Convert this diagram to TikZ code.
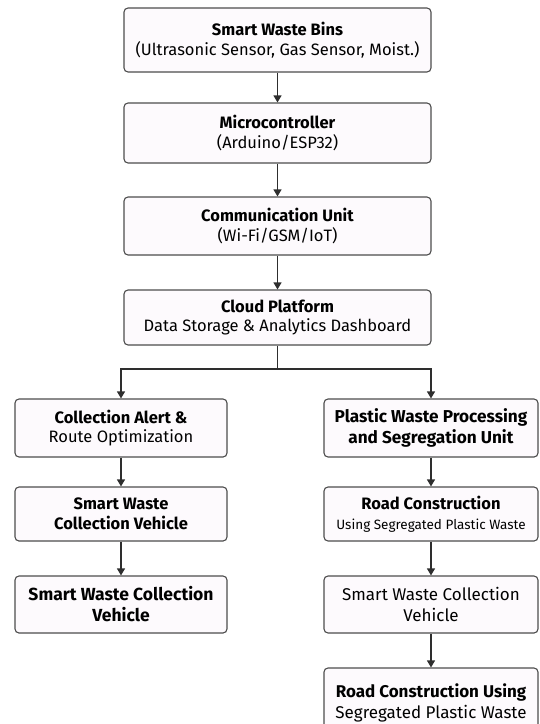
\documentclass[tikz,border=0pt]{standalone}
\usepackage{fontspec}
\setmainfont{Fira Sans}
\usetikzlibrary{arrows.meta}
\definecolor{boxfill}{HTML}{FDFAFD}
\definecolor{boxgray}{HTML}{4D4D4D}
\definecolor{linegray}{HTML}{2E2E2E}
\tikzset{
  box/.style={draw=boxgray, fill=boxfill, rounded corners=4pt, line width=1.1pt,
    align=center, inner sep=0pt, font=\fontsize{16.5}{19.5}\selectfont},
  mainbox/.style={box, minimum width=307pt},
  leftbox/.style={box, minimum width=212pt},
  rightbox/.style={box, minimum width=214pt},
  link/.style={draw=linegray, line width=1.1pt},
  flow/.style={link, -{Triangle[width=8pt,length=7pt]}},
}

\begin{document}
\begin{tikzpicture}[x=1pt,y=-1pt]
    \useasboundingbox (0,0) rectangle (539,724);
    \pgfmathsetmacro{\colM}{277.5}  % main column
    \pgfmathsetmacro{\colL}{121}  % left branch
    \pgfmathsetmacro{\colR}{431}  % right branch

    % main column
    \node[mainbox, minimum height=64pt] (bins) at (\colM,40)
        {\textbf{Smart Waste Bins}\\(Ultrasonic Sensor, Gas Sensor, Moist.)};
    \node[mainbox, minimum height=60pt] (mcu) at (\colM,133)
        {\textbf{Microcontroller}\\(Arduino/ESP32)};
    \node[mainbox, minimum height=58pt] (comm) at (\colM,226)
        {\textbf{Communication Unit}\\(Wi-Fi/GSM/IoT)};
    \node[mainbox, minimum height=55pt] (cloud) at (\colM,317.5)
        {\textbf{Cloud Platform}\\Data Storage \& Analytics Dashboard};
    \coordinate (split) at (\colM,369);

    % left branch
    \node[leftbox, minimum height=58pt] (alert) at (\colL,428)
        {\textbf{Collection Alert \&}\\Route Optimization};
    \node[leftbox, minimum height=54pt] (truck) at (\colL,514)
        {\textbf{Smart Waste}\\\textbf{Collection Vehicle}};
    \node[leftbox, minimum height=57pt, font=\fontsize{17.5}{21}\selectfont] (truckB) at (\colL,604.5)
        {\textbf{Smart Waste Collection}\\\textbf{Vehicle}};

    % right branch
    \node[rightbox, minimum height=58pt, font=\fontsize{17.2}{20.5}\selectfont] (plastic) at (\colR,428)
        {\textbf{Plastic Waste Processing}\\\textbf{and Segregation Unit}};
    \node[rightbox, minimum height=54pt] (road) at (\colR,514)
        {\textbf{Road Construction}\\{\fontsize{13.5}{18}\selectfont Using Segregated Plastic Waste}};
    \node[rightbox, minimum height=57pt, font=\fontsize{17}{21}\selectfont] (truckR) at (\colR,604.5)
        {Smart Waste Collection\\Vehicle};
    \node[rightbox, minimum height=70pt, font=\fontsize{17}{21}\selectfont] (roadB) at (\colR,703)
        {\textbf{Road Construction Using}\\Segregated Plastic Waste};

    % connectors
    \draw[flow] (bins) -- (mcu);
    \draw[flow] (mcu) -- (comm);
    \draw[flow] (comm) -- (cloud);
    \draw[link] (cloud) -- (split);
    \draw[flow] (split) -| (alert);
    \draw[flow] (split) -| (plastic);
    \draw[flow] (alert) -- (truck);
    \draw[flow] (truck) -- (truckB);
    \draw[flow] (plastic) -- (road);
    \draw[flow] (road) -- (truckR);
    \draw[flow] (truckR) -- (roadB);
\end{tikzpicture}
\end{document}
